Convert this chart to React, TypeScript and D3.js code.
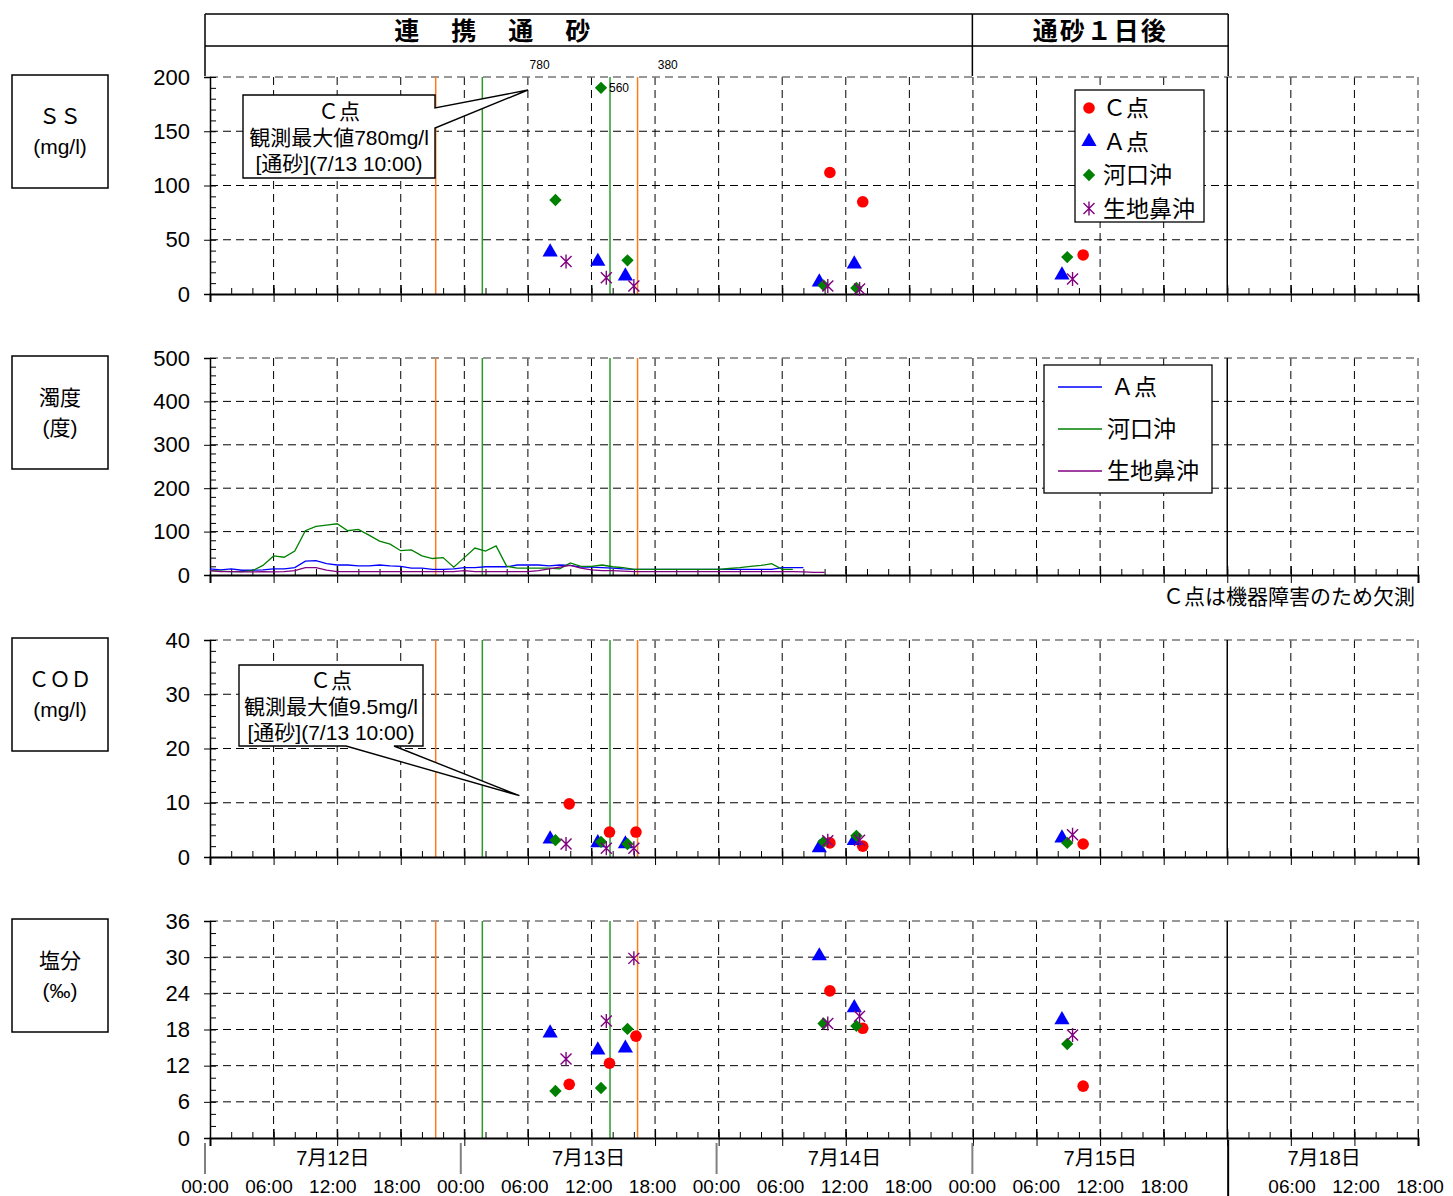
import React, { useRef, useEffect } from 'react';
import * as d3 from 'd3';

// time = hours from 7/12 00:00 (the 7/18 block is packed right after 7/15, from 96h)
const dayLabels = ['7月12日', '7月13日', '7月14日', '7月15日', '7月18日'];
const dayStarts = [0, 24, 48, 72, 96];
const dayEnds = [24, 48, 72, 96, 114];
const timeLabelHours = [0, 6, 12, 18, 24, 30, 36, 42, 48, 54, 60, 66, 72, 78, 84, 90, 102, 108, 114];
const timeLabelText = ['00:00', '06:00', '12:00', '18:00', '00:00', '06:00', '12:00', '18:00', '00:00', '06:00', '12:00', '18:00', '00:00', '06:00', '12:00', '18:00', '06:00', '12:00', '18:00'];

// event lines
const orangeLines = [21.3, 40.35];
const greenLines = [25.7, 37.75];

// sampling times per station
const timesC = [33.9, 37.7, 40.2, 58.5, 61.6, 82.4];
const timesA = [32.1, 36.6, 39.2, 57.5, 60.8, 80.4];
const timesKako = [32.6, 36.9, 39.4, 57.9, 61.0, 80.9];
const timesIkuji = [33.6, 37.4, 40.0, 58.3, 61.3, 81.4];

// SS (mg/l) — C off-scale values are written in the header row
const ssC = [null, null, null, 112, 85, 36];
const ssA = [38.7, 30, 16.6, 11, 27.6, 17.5];
const ssKako = [86.6, 560, 31, 8, 5.5, 34];
const ssIkuji = [30, 15, 7.4, 7.4, 4.6, 13.8];
const ssHeaderNotes = ['780', '380'];
const ssHeaderNoteTimes = [31.1, 43.2];

// COD (mg/l)
const codC = [9.8, 4.6, 4.6, 2.6, 2.0, 2.4];
const codA = [3.3, 2.6, 2.4, 1.7, 3.0, 3.5];
const codKako = [3.1, 2.8, 2.4, 2.8, 3.9, 2.6];
const codIkuji = [2.4, 1.6, 1.6, 3.0, 3.1, 4.1];

// salinity (‰)
const salC = [8.9, 12.4, 16.9, 24.4, 18.2, 8.6];
const salA = [17.4, 14.6, 14.9, 30.2, 21.6, 19.6];
const salKako = [7.8, 8.3, 18.1, 19.0, 18.6, 15.6];
const salIkuji = [13.1, 19.4, 29.8, 19.0, 20.2, 17.1];

// turbidity (度), hourly from 7/12 00:00
const turbA = [14, 12, 14, 11, 11, 12, 14, 14, 17, 32, 33, 26, 23, 23, 21, 21, 23, 21, 20, 16, 16, 13, 13, 14, 17, 17, 19, 19, 19, 23, 23, 23, 21, 23, 22, 18, 18, 17, 16, 14, 13, 13, 13, 13, 13, 13, 13, 13, 13, 13, 13, 13, 13, 13, 17, 17, 17];
const turbKako = [10, 9, 8, 8, 10, 22, 44, 41, 55, 102, 112, 115, 118, 102, 105, 92, 78, 71, 56, 58, 44, 38, 40, 18, 40, 62, 55, 67, 20, 16, 16, 16, 16, 14, 28, 20, 20, 23, 19, 17, 13, 13, 13, 13, 13, 13, 13, 13, 13, 15, 17, 20, 22, 26, 13, 13];
const turbIkuji = [10, 8, 8, 7, 7, 8, 7, 8, 10, 17, 17, 11, 8, 8, 8, 8, 8, 8, 8, 8, 8, 8, 8, 8, 10, 8, 8, 8, 8, 8, 8, 10, 14, 18, 22, 16, 12, 10, 10, 9, 8, 8, 8, 8, 8, 8, 8, 8, 8, 8, 8, 8, 8, 8, 8, 8, 7, 6, 6];

const stationNames = ['Ｃ点', 'Ａ点', '河口沖', '生地鼻沖'];
const stationColors = ['#ff0000', '#0000ff', '#008000', '#800080'];
const stationShapes = ['circle', 'triangle', 'diamond', 'star'];

const FONT = '"Liberation Sans", "Noto Sans CJK JP", Arial, sans-serif';

const App = () => {
  const svgRef = useRef(null);

  useEffect(() => {
    const svg = d3.select(svgRef.current);
    svg.selectAll('*').remove();
    svg.attr('font-family', FONT);

    const x = d3.scaleLinear().domain([0, 114]).range([210, 1418]);
    const xl = d3.scaleLinear().domain([0, 114]).range([205, 1420]); // label table under the chart
    const panelH = 217;

    const marker = (g, shape, color, cx, cy) => {
      if (shape === 'circle') {
        g.append('circle').attr('cx', cx).attr('cy', cy).attr('r', 5.8).attr('fill', color);
      } else if (shape === 'triangle') {
        g.append('path').attr('d', d3.symbol(d3.symbolTriangle, 100)())
          .attr('transform', `translate(${cx},${cy})`).attr('fill', color);
      } else if (shape === 'diamond') {
        g.append('path').attr('d', d3.symbol(d3.symbolSquare, 76)())
          .attr('transform', `translate(${cx},${cy}) rotate(45)`).attr('fill', color);
      } else {
        g.append('path').attr('d', 'M0,-7V7M-5.5,-5.5L5.5,5.5M-5.5,5.5L5.5,-5.5')
          .attr('transform', `translate(${cx},${cy})`)
          .attr('stroke', color).attr('stroke-width', 1.4).attr('fill', 'none');
      }
    };

    // panel frame, grid, axes
    const drawPanel = (top, yMax, step, minor, label) => {
      const y = d3.scaleLinear().domain([0, yMax]).range([top + panelH, top]);
      const g = svg.append('g');

      // label box on the left
      g.append('rect').attr('x', 12).attr('y', top - 2).attr('width', 96).attr('height', 113)
        .attr('fill', '#fff').attr('stroke', '#000').attr('stroke-width', 1.5);
      label.forEach((t, i) => {
        g.append('text').attr('x', 60).attr('y', top + 47 + i * 30).attr('text-anchor', 'middle')
          .attr('font-size', 21).text(t);
      });

      // grid
      const vHours = d3.range(6, 109, 6).filter(h => h !== 96);
      g.selectAll('.vgrid').data(vHours).enter().append('line')
        .attr('x1', d => x(d)).attr('x2', d => x(d)).attr('y1', top).attr('y2', top + panelH)
        .attr('stroke', '#000').attr('stroke-dasharray', '8,5');
      const hVals = d3.range(step, yMax, step);
      g.selectAll('.hgrid').data(hVals).enter().append('line')
        .attr('x1', x(0)).attr('x2', x(114)).attr('y1', d => y(d)).attr('y2', d => y(d))
        .attr('stroke', '#000').attr('stroke-dasharray', '8,5');
      // plot border (top / right)
      g.append('line').attr('x1', x(0)).attr('x2', x(114)).attr('y1', y(yMax)).attr('y2', y(yMax))
        .attr('stroke', '#777').attr('stroke-width', 1.5).attr('stroke-dasharray', '8,5');
      g.append('line').attr('x1', x(114)).attr('x2', x(114)).attr('y1', top).attr('y2', top + panelH)
        .attr('stroke', '#777').attr('stroke-width', 1.5).attr('stroke-dasharray', '8,5');
      // 7/15 | 7/18 separator
      g.append('line').attr('x1', x(96)).attr('x2', x(96)).attr('y1', top).attr('y2', top + panelH)
        .attr('stroke', '#000').attr('stroke-width', 1.5);

      // event lines
      orangeLines.forEach(h => {
        g.append('line').attr('x1', x(h)).attr('x2', x(h)).attr('y1', top).attr('y2', top + panelH)
          .attr('stroke', '#ff7a1a').attr('stroke-width', 1.5);
      });
      greenLines.forEach(h => {
        g.append('line').attr('x1', x(h)).attr('x2', x(h)).attr('y1', top).attr('y2', top + panelH)
          .attr('stroke', '#2a9a2a').attr('stroke-width', 1.5);
      });

      // y axis: labels + crossing major ticks, minor ticks inside
      const yAxis = g.append('g').attr('transform', `translate(${x(0)},0)`)
        .call(d3.axisLeft(y).tickValues(d3.range(0, yMax + 0.001, step)).tickSize(6).tickPadding(14).tickFormat(d3.format('d')));
      yAxis.select('.domain').attr('stroke-width', 1.5);
      yAxis.selectAll('text').attr('font-size', 22).attr('font-family', FONT).attr('fill', '#000');
      g.append('g').attr('transform', `translate(${x(0)},0)`)
        .call(d3.axisRight(y).tickValues(d3.range(0, yMax + 0.001, minor)).tickSize(6).tickFormat(() => ''))
        .select('.domain').remove();

      // x axis: major ticks crossing, minor ticks every 2h inside
      const xAxis = g.append('g').attr('transform', `translate(0,${top + panelH})`)
        .call(d3.axisBottom(x).tickValues(d3.range(0, 115, 6)).tickSize(8).tickFormat(() => ''));
      xAxis.select('.domain').attr('stroke-width', 2);
      g.append('g').attr('transform', `translate(0,${top + panelH})`)
        .call(d3.axisTop(x).tickValues(d3.range(0, 115, 2)).tickSize(6).tickFormat(() => ''))
        .select('.domain').remove();
      g.append('g').attr('transform', `translate(0,${top + panelH})`)
        .call(d3.axisTop(x).tickValues(d3.range(0, 115, 6)).tickSize(9).tickFormat(() => ''))
        .select('.domain').remove();

      return y;
    };

    const drawStations = (y, yMax, series, cap) => {
      const g = svg.append('g');
      const times = [timesC, timesA, timesKako, timesIkuji];
      series.forEach((vals, s) => {
        vals.forEach((v, i) => {
          if (v === null) return;
          const vv = v > yMax ? cap : v;
          marker(g, stationShapes[s], stationColors[s], x(times[s][i]), y(vv));
          if (v > yMax) {
            g.append('text').attr('x', x(times[s][i]) + 8).attr('y', y(vv) + 4)
              .attr('font-size', 12).text(String(v));
          }
        });
      });
    };

    // ---- header table ----
    const hdr = svg.append('g').attr('stroke', '#000').attr('stroke-width', 1.5);
    hdr.append('line').attr('x1', xl(0)).attr('x2', xl(96)).attr('y1', 14).attr('y2', 14);
    hdr.append('line').attr('x1', xl(0)).attr('x2', xl(96)).attr('y1', 46).attr('y2', 46);
    [0, 72, 96].forEach(h => {
      hdr.append('line').attr('x1', xl(h)).attr('x2', xl(h)).attr('y1', 14).attr('y2', 76);
    });
    svg.append('text').attr('x', 494).attr('y', 40).attr('text-anchor', 'middle')
      .attr('font-size', 25).attr('font-weight', 'bold').attr('letter-spacing', 3.5)
      .attr('font-family', '"Noto Sans CJK JP", sans-serif').text('連　携　通　砂');
    svg.append('text').attr('x', (xl(72) + xl(96)) / 2).attr('y', 40).attr('text-anchor', 'middle')
      .attr('font-size', 25).attr('font-weight', 'bold').attr('letter-spacing', 2)
      .attr('font-family', '"Noto Sans CJK JP", sans-serif').text('通砂１日後');
    ssHeaderNotes.forEach((t, i) => {
      svg.append('text').attr('x', x(ssHeaderNoteTimes[i])).attr('y', 69).attr('text-anchor', 'middle')
        .attr('font-size', 12).text(t);
    });

    // ---- SS ----
    const ySS = drawPanel(77, 200, 50, 10, ['ＳＳ', '(mg/l)']);
    drawStations(ySS, 200, [ssC, ssA, ssKako, ssIkuji], 190);

    // SS callout
    const tipSS = [x(30), ySS(188)];
    svg.append('path')
      .attr('d', `M243,95H435V108L${tipSS[0]},${tipSS[1]}L435,128V178H243Z`)
      .attr('fill', '#fff').attr('stroke', '#000').attr('stroke-width', 1.4);
    ['Ｃ点', '観測最大値780mg/l', '[通砂](7/13 10:00)'].forEach((t, i) => {
      svg.append('text').attr('x', 339).attr('y', 119 + i * 26).attr('text-anchor', 'middle')
        .attr('font-size', 21).text(t);
    });

    // SS legend
    const lg1 = svg.append('g');
    lg1.append('rect').attr('x', 1075).attr('y', 90).attr('width', 129).attr('height', 132)
      .attr('fill', '#fff').attr('stroke', '#000').attr('stroke-width', 1.3);
    stationNames.forEach((n, i) => {
      const cy = 108 + i * 33.5;
      marker(lg1, stationShapes[i], stationColors[i], 1089, cy);
      lg1.append('text').attr('x', 1103).attr('y', cy + 8).attr('font-size', 23).text(n);
    });

    // ---- turbidity ----
    const yT = drawPanel(358, 500, 100, 20, ['濁度', '(度)']);
    const line = d3.line().x((d, i) => x(i)).y(d => yT(d));
    const turbSeries = [turbA, turbKako, turbIkuji];
    const turbColors = ['#0000ff', '#008000', '#800080'];
    const turbNames = ['Ａ点', '河口沖', '生地鼻沖'];
    turbSeries.forEach((s, i) => {
      svg.append('path').attr('d', line(s)).attr('fill', 'none')
        .attr('stroke', turbColors[i]).attr('stroke-width', 1.3);
    });
    const lg2 = svg.append('g');
    lg2.append('rect').attr('x', 1044).attr('y', 365).attr('width', 168).attr('height', 128)
      .attr('fill', '#fff').attr('stroke', '#000').attr('stroke-width', 1.3);
    turbNames.forEach((n, i) => {
      const cy = 387 + i * 42;
      lg2.append('line').attr('x1', 1058).attr('x2', 1102).attr('y1', cy).attr('y2', cy)
        .attr('stroke', turbColors[i]).attr('stroke-width', 1.3);
      lg2.append('text').attr('x', i === 0 ? 1111 : 1107).attr('y', cy + 8).attr('font-size', 23).text(n);
    });
    svg.append('text').attr('x', 1415).attr('y', 604).attr('text-anchor', 'end')
      .attr('font-size', 21).text('Ｃ点は機器障害のため欠測');

    // ---- COD ----
    const yC = drawPanel(640, 40, 10, 2, ['ＣＯＤ', '(mg/l)']);
    drawStations(yC, 40, [codC, codA, codKako, codIkuji], 38);
    const tipC = [x(29.2), yC(11.3)];
    svg.append('path')
      .attr('d', `M239,665H423V746H394L${tipC[0]},${tipC[1]}L346,746H239Z`)
      .attr('fill', '#fff').attr('stroke', '#000').attr('stroke-width', 1.4);
    ['Ｃ点', '観測最大値9.5mg/l', '[通砂](7/13 10:00)'].forEach((t, i) => {
      svg.append('text').attr('x', 331).attr('y', 688 + i * 26).attr('text-anchor', 'middle')
        .attr('font-size', 21).text(t);
    });

    // ---- salinity ----
    const yS = drawPanel(921, 36, 6, 2, ['塩分', '(‰)']);
    drawStations(yS, 36, [salC, salA, salKako, salIkuji], 35);

    // ---- label table under the chart ----
    const lt = svg.append('g');
    dayStarts.slice(0, 4).forEach(h => {
      lt.append('line').attr('x1', xl(h)).attr('x2', xl(h)).attr('y1', 1143).attr('y2', 1174)
        .attr('stroke', '#808080').attr('stroke-width', 2);
    });
    lt.append('line').attr('x1', xl(96)).attr('x2', xl(96)).attr('y1', 1140).attr('y2', 1196)
      .attr('stroke', '#000').attr('stroke-width', 2);
    dayLabels.forEach((d, i) => {
      lt.append('text').attr('x', (xl(dayStarts[i]) + xl(dayEnds[i])) / 2).attr('y', 1165)
        .attr('text-anchor', 'middle').attr('font-size', 20).text(d);
    });
    timeLabelHours.forEach((h, i) => {
      lt.append('text').attr('x', xl(h)).attr('y', 1193).attr('text-anchor', 'middle')
        .attr('font-size', 19).text(timeLabelText[i]);
    });
  }, []);

  return (
    <div style={{ position: 'absolute', left: 0, top: 0 }}>
      <svg ref={svgRef} width={1453} height={1196} style={{ display: 'block', background: '#fff' }} />
    </div>
  );
};

export default App;
